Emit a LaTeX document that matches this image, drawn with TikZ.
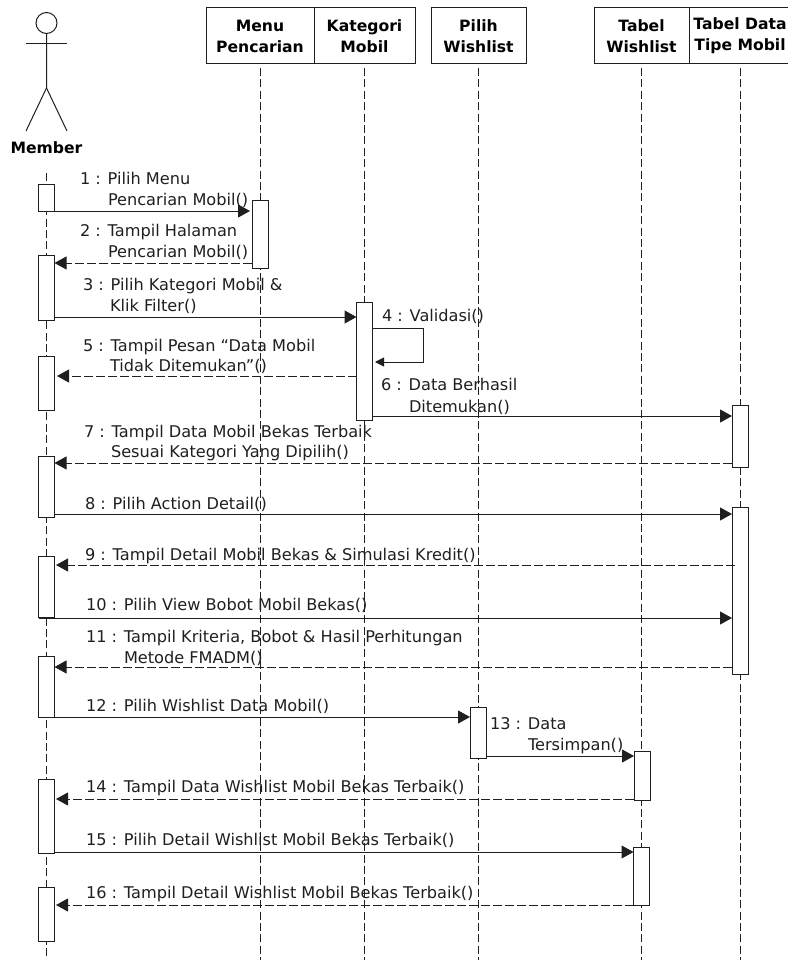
\documentclass[tikz,border=0pt]{standalone}
\usepackage{fontspec}
\setmainfont{DejaVu Sans}
\usetikzlibrary{arrows.meta}
\definecolor{ln}{gray}{0.12}
\tikzset{
 x=1pt,y=-1pt,
 every node/.style={inner sep=0pt,outer sep=0pt},
 head/.style={draw=ln,line width=1pt,fill=white,minimum height=56pt,align=center,font=\fontsize{15.6}{21}\selectfont\bfseries,anchor=north west},
 actbox/.style={draw=ln,line width=1pt,fill=white,minimum width=16pt},
 life/.style={draw=ln,line width=.9pt,dash pattern=on 8pt off 3.4pt},
 msg/.style={draw=ln,line width=1pt,-{Triangle[length=12pt,width=13pt]}},
 ret/.style={draw=ln,line width=1pt,dash pattern=on 9pt off 3pt,-{Triangle[length=12pt,width=13pt]}},
 lab/.style={anchor=base west,font=\fontsize{16.15}{21}\selectfont,text=ln},
}
\newcommand{\actv}[4]{\node[actbox,minimum height={#4-#3},anchor=north] (#1) at (#2,#3) {};}
\newcommand{\lbl}[4]{\node[lab] (#1) at (#2,#3) {#4};}
\begin{document}
\begin{tikzpicture}
\useasboundingbox (0,0) rectangle (787,960);
% lifelines
\coordinate (lm) at (46.5,173); \coordinate (lme) at (46.5,960);
\draw[life] (lm) -- (lme);
\draw[life] (260,68) -- (260,960);
\draw[life] (364.5,68) -- (364.5,960);
\draw[life] (478,68) -- (478,960);
\draw[life] (641.5,68) -- (641.5,960);
\draw[life] (740,68) -- (740,960);
% headers
\node[head,minimum width=108pt] (hm) at (206,8) {Menu\\Pencarian};
\node[head,minimum width=101pt] (hk) at (314,8) {Kategori\\Mobil};
\node[head,minimum width=95pt] (hp) at (431,8) {Pilih\\Wishlist};
\node[head,minimum width=95pt] (hw) at (594,8) {Tabel\\Wishlist};
\node[head,minimum width=102pt] (ht) at (689,8) {Tabel Data\\Tipe Mobil};
% actor
\node[draw=ln,line width=1pt,circle,minimum size=21pt] (ah) at (46.5,23) {};
\coordinate (hip) at (46.5,88);
\draw[draw=ln,line width=1pt] (ah.south) -- (hip) -- (26,131);
\draw[draw=ln,line width=1pt] (hip) -- (67,131);
\draw[draw=ln,line width=1pt] (26,44) -- (67,44);
\node[font=\fontsize{15.6}{17}\selectfont\bfseries] (am) at (46.5,148) {Member};
% activations
\actv{a1}{46.5}{184}{211}
\actv{a2}{46.5}{255.5}{320.5}
\actv{a3}{46.5}{356.5}{410.5}
\actv{a4}{46.5}{456}{517}
\actv{a5}{46.5}{556.5}{617.5}
\actv{a6}{46.5}{656}{717}
\actv{a7}{46.5}{779.5}{853}
\actv{a8}{46.5}{887.5}{941}
\actv{bm}{260}{200.5}{268}
\actv{bk}{364.5}{302.5}{420}
\actv{d1}{740}{405}{467}
\actv{d2}{740}{507}{674}
\actv{p1}{478}{707.5}{758}
\actv{w1}{642}{751.5}{800.5}
\actv{w2}{641.5}{847.5}{905}
% messages
\draw[msg] (a1.east |- 0,211) -- ([xshift=-2pt]bm.west |- 0,211);
\draw[ret] (bm.west |- 0,263) -- (a2.east |- 0,263);
\draw[msg] (a2.east |- 0,317) -- (bk.west |- 0,317);
\coordinate (s1) at (423,328); \coordinate (s2) at (423,362);
\draw[draw=ln,line width=1pt,-{Triangle[length=9pt,width=9pt]}] (bk.east |- s1) -- (s1) -- (s2) -- ([xshift=2.5pt]bk.east |- s2);
\draw[ret] (bk.west |- 0,376) -- ([xshift=2.5pt]a3.east |- 0,376);
\draw[msg] (bk.east |- 0,416) -- (d1.west |- 0,416);
\draw[ret] (d1.west |- 0,463) -- (a4.east |- 0,463);
\draw[msg] (a4.east |- 0,514) -- (d2.west |- 0,514);
\draw[ret] ([xshift=3pt]d2.west |- 0,565) -- ([xshift=1.5pt]a5.east |- 0,565);
\draw[msg] (a5.west |- 0,618) -- (d2.west |- 0,618);
\draw[ret] (d2.west |- 0,667) -- (a6.east |- 0,667);
\draw[msg] (a6.east |- 0,717) -- (p1.west |- 0,717);
\draw[msg] (p1.east |- 0,756) -- (w1.west |- 0,756);
\draw[ret] (w1.west |- 0,799) -- ([xshift=1.5pt]a7.east |- 0,799);
\draw[msg] (a7.east |- 0,852) -- (w2.west |- 0,852);
\draw[ret] (w2.west |- 0,905) -- ([xshift=1.5pt]a8.east |- 0,905);
% labels
\lbl{t1a}{80}{185}{1 : Pilih Menu}
\lbl{t1b}{108}{205}{Pencarian Mobil()}
\lbl{t2a}{80}{236}{2 : Tampil Halaman}
\lbl{t2b}{108}{257}{Pencarian Mobil()}
\lbl{t3a}{83}{290}{3 : Pilih Kategori Mobil \&}
\lbl{t3b}{110}{311}{Klik Filter()}
\lbl{t4}{382}{321}{4 : Validasi()}
\lbl{t5a}{83}{351}{5 : Tampil Pesan “Data Mobil}
\lbl{t5b}{110}{371}{Tidak Ditemukan”()}
\lbl{t6a}{381}{390}{6 : Data Berhasil}
\lbl{t6b}{409}{412}{Ditemukan()}
\lbl{t7a}{84}{437}{7 : Tampil Data Mobil Bekas Terbaik}
\lbl{t7b}{111}{457}{Sesuai Kategori Yang Dipilih()}
\lbl{t8}{85}{509}{8 : Pilih Action Detail()}
\lbl{t9}{85}{560}{9 : Tampil Detail Mobil Bekas \& Simulasi Kredit()}
\lbl{t10}{86}{610}{10 : Pilih View Bobot Mobil Bekas()}
\lbl{t11a}{86}{642}{11 : Tampil Kriteria, Bobot \& Hasil Perhitungan}
\lbl{t11b}{124}{663}{Metode FMADM()}
\lbl{t12}{86}{711}{12 : Pilih Wishlist Data Mobil()}
\lbl{t13a}{490}{729}{13 : Data}
\lbl{t13b}{528}{750}{Tersimpan()}
\lbl{t14}{86}{792}{14 : Tampil Data Wishlist Mobil Bekas Terbaik()}
\lbl{t15}{86}{845}{15 : Pilih Detail Wishlist Mobil Bekas Terbaik()}
\lbl{t16}{86}{898}{16 : Tampil Detail Wishlist Mobil Bekas Terbaik()}
\end{tikzpicture}
\end{document}
